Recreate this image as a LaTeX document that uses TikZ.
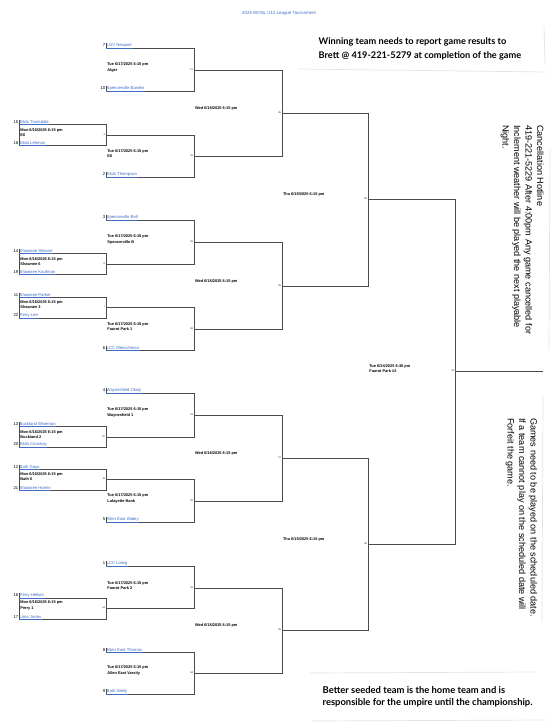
\documentclass[tikz,border=0pt]{standalone}
\usepackage{fontspec}
\setmainfont{Liberation Sans}
\newfontfamily\notefont{Lato}
\usetikzlibrary{positioning}
\definecolor{linkblue}{RGB}{62,108,196}
\definecolor{bracketgray}{RGB}{75,75,75}
\definecolor{scangray}{RGB}{228,228,228}
\newcommand{\teamsize}{\fontsize{4.2}{5}\selectfont}
\newcommand{\datesize}{\fontsize{3.9}{5.5}\selectfont\bfseries}
\newcommand{\numsize}{\fontsize{2.4}{3}\selectfont}

\begin{document}
\begin{tikzpicture}[x=1pt,y=-1pt,
  bracket/.style={draw=bracketgray,line width=0.9pt},
  team/.style={font=\teamsize,text=linkblue,inner sep=0.5pt,anchor=south west,
    append after command={(\tikzlastnode.south west) edge[linkblue,line width=0.3pt] (\tikzlastnode.south east)
      (\tikzlastnode.south west) edge[bracketgray,line width=0.6pt] (\tikzlastnode.north west)}},
  seed/.style={font=\teamsize,inner sep=0.3pt},
  gameinfo/.style={font=\datesize,align=left,anchor=west,inner sep=0pt},
  gameno/.style={font=\numsize,anchor=east,inner sep=0.8pt},
  note/.style={font=\notefont\bfseries\fontsize{9.2}{14}\selectfont,align=left,anchor=west,inner sep=0pt},
  sidenote/.style={font=\fontsize{9.1}{11.5}\selectfont,align=left,rotate=-90,anchor=north west,inner sep=0pt},
  scan/.style={draw=scangray,line width=0.7pt}]
\fill[white] (0,0) rectangle (559,726);
\useasboundingbox (0,0) rectangle (559,726);

% ================= title =================
\node[font=\fontsize{4.4}{5}\selectfont,text=linkblue] (title) at (279,13)
  {2025 WOSL U12 League Tournament};

% ================= brackets: game/left/right/top/bottom/out/no =================
\foreach \g/\xa/\xb/\t/\b/\o/\n in {
    pA/19/106/124/145/135/3, pB/19/106/253/274/264/6, pC/19/106/297/318/307/7,
    pD/19/106/426/447/437/10, pE/19/106/469/490/479/11, pF/19/106/598/619/608/14,
    qA/106/194/48/91/70/17, qB/106/194/135/177/156/18, qC/106/194/220/264/242/19,
    qD/106/194/307/350/329/20, qE/106/194/393/437/415/21, qF/106/194/479/522/501/22,
    qG/106/194/566/608/588/23, qH/106/194/652/694/673/24,
    rA/194/282/70/156/113/25, rB/194/282/242/329/286/26,
    rC/194/282/415/501/458/27, rD/194/282/588/673/630/28,
    sA/282/368/113/286/199/29, sB/282/368/458/630/544/30,
    fA/368/455/199/544/371/31}
{
  \coordinate (\g-tl) at (\xa,\t);
  \coordinate (\g-tr) at (\xb,\t);
  \coordinate (\g-br) at (\xb,\b);
  \coordinate (\g-bl) at (\xa,\b);
  \coordinate (\g-out) at (\xb,\o);
  \draw[bracket] (\g-tl) -- (\g-tr) -- (\g-br) -- (\g-bl);
  \node[gameno] (\g-no) at (\g-out) {\n};
}
% play-in boxes are closed on the left
\foreach \g in {pA,pB,pC,pD,pE,pF}
  \draw[bracket] (\g-tl) -- (\g-bl);
% winner line
\coordinate (champ) at (543,371);
\draw[bracket] (fA-out) -- (champ);

% ================= game dates and fields =================
\foreach \g/\txt in {
    pA/{Mon 6/16/2025 6:15 pm\\E6}, pB/{Mon 6/16/2025 6:15 pm\\Shawnee 6},
    pC/{Mon 6/16/2025 6:15 pm\\Shawnee 3}, pD/{Mon 6/16/2025 6:15 pm\\Buckland 2},
    pE/{Mon 6/16/2025 6:15 pm\\Bath 6}, pF/{Mon 6/16/2025 6:15 pm\\Perry 1},
    qA/{Tue 6/17/2025 6:15 pm\\Alger}, qB/{Tue 6/17/2025 6:15 pm\\E6},
    qC/{Tue 6/17/2025 6:15 pm\\Spencerville B}, qD/{Tue 6/17/2025 6:15 pm\\Faurot Park 1},
    qE/{Tue 6/17/2025 6:15 pm\\Waynesfield 1}, qF/{Tue 6/17/2025 6:15 pm\\Lafayette Bank},
    qG/{Tue 6/17/2025 6:15 pm\\Faurot Park 2}, qH/{Tue 6/17/2025 6:15 pm\\Allen East Varsity},
    fA/{Tue 6/24/2025 6:30 pm\\Faurot Park \#2}}
  \node[gameinfo,xshift=1.2pt,yshift=2.6pt] (\g-info) at (\g-tl |- \g-out) {\txt};
\foreach \g/\txt in {rA/{Wed 6/18/2025 6:15 pm}, rB/{Wed 6/18/2025 6:15 pm},
    rC/{Wed 6/18/2025 6:15 pm}, rD/{Wed 6/18/2025 6:15 pm},
    sA/{Thu 6/19/2025 6:15 pm}, sB/{Thu 6/19/2025 6:15 pm}}
  \node[gameinfo,xshift=0.8pt,yshift=4.8pt] (\g-info) at (\g-tl |- \g-out) {\txt};

% ================= teams =================
\foreach \at/\s/\name in {
    qA-tl/7/LGV Newport, qA-bl/10/Spencerville Barden,
    pA-tl/15/Elida Truesdale, pA-bl/18/Elida Lehman, qB-bl/2/Elida Thompson,
    qC-tl/3/Spencerville Bell, pB-tl/14/Shawnee Stewart, pB-bl/19/Shawnee Kaufman,
    pC-tl/11/Shawnee Parker, pC-bl/22/Perry Lee, qD-bl/6/LCC Menschman,
    qE-tl/4/Waynesfield Okuly, pD-tl/13/Buckland Wiseman, pD-bl/20/Elida Conshay,
    pE-tl/12/Bath Gaus, pE-bl/21/Shawnee Hoehn, qF-bl/5/Allen East Abbey,
    qG-tl/1/LCC Loinig, pF-tl/16/Perry Hellum, pF-bl/17/Lima Jones,
    qH-tl/8/Allen East Thomas, qH-bl/9/Bath Neely}
{
  \node[team] (t\s) at (\at) {\name};
  \node[seed,left=0.2pt of t\s] (s\s) {\s};
}

% ================= notes =================
\draw[scan] (298,69) -- (546,72);
\draw[scan] (544,26) -- (545,64);
\node[note] (report) at (318.5,49)
  {Winning team needs to report game results to\\
   Brett @ 419-221-5279 at completion of the game};

\draw[scan] (550,150) -- (549,350);
\node[sidenote] (hotline) at (544,125)
  {Cancellation Hotline\\
   419-221-5229 After 4:00pm Any game cancelled for\\
   Inclement weather will be played the next playable\\
   Night.};

\draw[scan] (543,395) -- (542,622);
\node[sidenote] (forfeit) at (537.5,418)
  {Games need to be played on the scheduled date.\\
   If a team cannot play on the scheduled date will\\
   Forfeit the game.};

\draw[scan] (310,673) -- (537,672);
\draw[scan] (312,721) -- (546,720);
\node[note,font=\notefont\bfseries\fontsize{9.4}{12}\selectfont] (umpire) at (322.5,697)
  {Better seeded team is the home team and is\\
   responsible for the umpire until the championship.};
\end{tikzpicture}
\end{document}
